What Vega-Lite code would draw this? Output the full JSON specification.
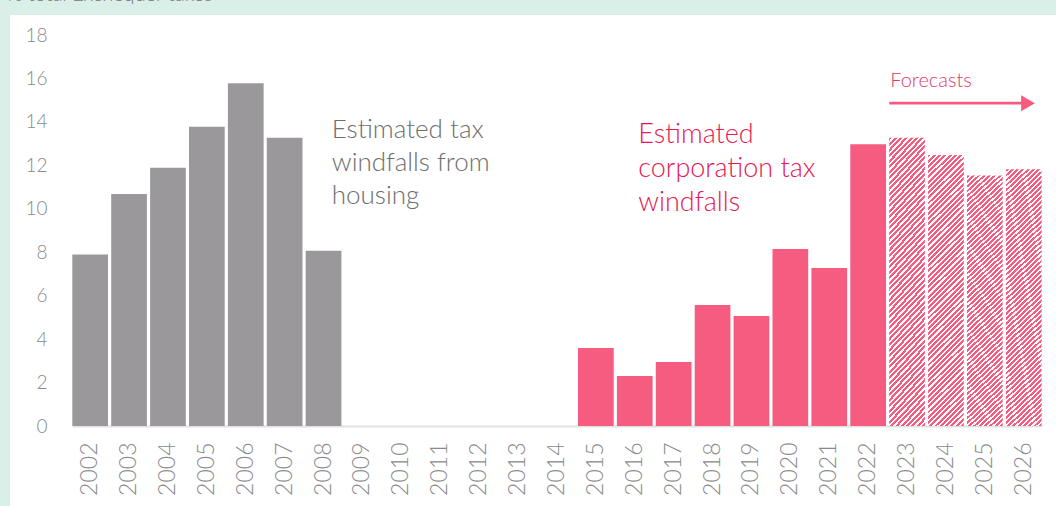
{
 "$schema": "https://vega.github.io/schema/vega-lite/v6.json",
 "width": 1046,
 "height": 491,
 "autosize": {"type": "none"},
 "padding": {"left": 10, "top": 15, "right": 0, "bottom": 0},
 "background": "#d9efe8",
 "view": {"fill": "#ffffff", "stroke": null},
 "title": {"text": "% total Exchequer takes", "anchor": "start", "frame": "group", "offset": 0, "baseline": "bottom", "fontSize": 20, "font": "Lato", "fontWeight": 300, "color": "#777777", "dx": -3, "dy": 10},
 "config": {"font": "Lato"},
 "datasets": {
  "bars": [
   {"year": "2002", "value": 7.9, "kind": "housing"},
   {"year": "2003", "value": 10.68, "kind": "housing"},
   {"year": "2004", "value": 11.89, "kind": "housing"},
   {"year": "2005", "value": 13.78, "kind": "housing"},
   {"year": "2006", "value": 15.78, "kind": "housing"},
   {"year": "2007", "value": 13.27, "kind": "housing"},
   {"year": "2008", "value": 8.07, "kind": "housing"},
   {"year": "2015", "value": 3.59, "kind": "corporation"},
   {"year": "2016", "value": 2.3, "kind": "corporation"},
   {"year": "2017", "value": 2.95, "kind": "corporation"},
   {"year": "2018", "value": 5.57, "kind": "corporation"},
   {"year": "2019", "value": 5.06, "kind": "corporation"},
   {"year": "2020", "value": 8.15, "kind": "corporation"},
   {"year": "2021", "value": 7.27, "kind": "corporation"},
   {"year": "2022", "value": 12.97, "kind": "corporation"},
   {"year": "2023", "value": 13.27, "kind": "forecast"},
   {"year": "2024", "value": 12.48, "kind": "forecast"},
   {"year": "2025", "value": 11.53, "kind": "forecast"},
   {"year": "2026", "value": 11.82, "kind": "forecast"}
  ]
 },
 "layer": [
  {
   "data": {"name": "bars"},
   "transform": [{"filter": "datum.kind != 'forecast'"}],
   "mark": {"type": "bar"},
   "encoding": {
    "x": {"field": "year", "type": "ordinal",
     "scale": {"domain": ["2002","2003","2004","2005","2006","2007","2008","2009","2010","2011","2012","2013","2014","2015","2016","2017","2018","2019","2020","2021","2022","2023","2024","2025","2026"], "range": [62.3, 1031.6], "paddingInner": 0.082, "paddingOuter": 0},
     "axis": {"title": null, "orient": "bottom", "offset": -80, "ticks": false, "domainColor": "#e2e2e2", "domainWidth": 2, "labelAngle": 270, "labelAlign": "right", "labelBaseline": "middle", "labelPadding": 16, "labelFontSize": 23, "labelFont": "Lato", "labelFontWeight": 300, "labelColor": "#8a8a8a", "grid": false}},
    "y": {"field": "value", "type": "quantitative",
     "scale": {"domain": [0, 18], "range": [411, 20], "nice": false, "zero": false},
     "axis": {"title": null, "offset": -39, "values": [0,2,4,6,8,10,12,14,16,18], "ticks": false, "domain": false, "grid": false, "labelPadding": 2, "labelFontSize": 19, "labelFont": "Lato", "labelFontWeight": 300, "labelColor": "#8a8a8a"}},
    "color": {"field": "kind", "type": "nominal", "scale": {"domain": ["housing", "corporation"], "range": ["#9a989b", "#f65c80"]}, "legend": null}
   }
  },
  {
   "data": {"name": "bars"},
   "transform": [{"filter": "datum.kind == 'forecast'"}],
   "mark": {"type": "bar", "fill": {"gradient": "linear", "x1": 0, "y1": 0, "x2": 0.145, "y2": 1.115, "stops": [
{"offset":0,"color":"#f65c80"},{"offset":0.0095,"color":"#f65c80"},{"offset":0.0095,"color":"#ffffff"},{"offset":0.017,"color":"#ffffff"},
{"offset":0.017,"color":"#f65c80"},{"offset":0.0265,"color":"#f65c80"},{"offset":0.0265,"color":"#ffffff"},{"offset":0.034,"color":"#ffffff"},
{"offset":0.034,"color":"#f65c80"},{"offset":0.0435,"color":"#f65c80"},{"offset":0.0435,"color":"#ffffff"},{"offset":0.051,"color":"#ffffff"},
{"offset":0.051,"color":"#f65c80"},{"offset":0.0605,"color":"#f65c80"},{"offset":0.0605,"color":"#ffffff"},{"offset":0.068,"color":"#ffffff"},
{"offset":0.068,"color":"#f65c80"},{"offset":0.0775,"color":"#f65c80"},{"offset":0.0775,"color":"#ffffff"},{"offset":0.085,"color":"#ffffff"},
{"offset":0.085,"color":"#f65c80"},{"offset":0.0945,"color":"#f65c80"},{"offset":0.0945,"color":"#ffffff"},{"offset":0.102,"color":"#ffffff"},
{"offset":0.102,"color":"#f65c80"},{"offset":0.1115,"color":"#f65c80"},{"offset":0.1115,"color":"#ffffff"},{"offset":0.119,"color":"#ffffff"},
{"offset":0.119,"color":"#f65c80"},{"offset":0.1285,"color":"#f65c80"},{"offset":0.1285,"color":"#ffffff"},{"offset":0.136,"color":"#ffffff"},
{"offset":0.136,"color":"#f65c80"},{"offset":0.1455,"color":"#f65c80"},{"offset":0.1455,"color":"#ffffff"},{"offset":0.153,"color":"#ffffff"},
{"offset":0.153,"color":"#f65c80"},{"offset":0.1625,"color":"#f65c80"},{"offset":0.1625,"color":"#ffffff"},{"offset":0.17,"color":"#ffffff"},
{"offset":0.17,"color":"#f65c80"},{"offset":0.1795,"color":"#f65c80"},{"offset":0.1795,"color":"#ffffff"},{"offset":0.187,"color":"#ffffff"},
{"offset":0.187,"color":"#f65c80"},{"offset":0.1965,"color":"#f65c80"},{"offset":0.1965,"color":"#ffffff"},{"offset":0.204,"color":"#ffffff"},
{"offset":0.204,"color":"#f65c80"},{"offset":0.2135,"color":"#f65c80"},{"offset":0.2135,"color":"#ffffff"},{"offset":0.221,"color":"#ffffff"},
{"offset":0.221,"color":"#f65c80"},{"offset":0.2305,"color":"#f65c80"},{"offset":0.2305,"color":"#ffffff"},{"offset":0.238,"color":"#ffffff"},
{"offset":0.238,"color":"#f65c80"},{"offset":0.2475,"color":"#f65c80"},{"offset":0.2475,"color":"#ffffff"},{"offset":0.255,"color":"#ffffff"},
{"offset":0.255,"color":"#f65c80"},{"offset":0.2645,"color":"#f65c80"},{"offset":0.2645,"color":"#ffffff"},{"offset":0.272,"color":"#ffffff"},
{"offset":0.272,"color":"#f65c80"},{"offset":0.2815,"color":"#f65c80"},{"offset":0.2815,"color":"#ffffff"},{"offset":0.289,"color":"#ffffff"},
{"offset":0.289,"color":"#f65c80"},{"offset":0.2985,"color":"#f65c80"},{"offset":0.2985,"color":"#ffffff"},{"offset":0.306,"color":"#ffffff"},
{"offset":0.306,"color":"#f65c80"},{"offset":0.3155,"color":"#f65c80"},{"offset":0.3155,"color":"#ffffff"},{"offset":0.323,"color":"#ffffff"},
{"offset":0.323,"color":"#f65c80"},{"offset":0.3325,"color":"#f65c80"},{"offset":0.3325,"color":"#ffffff"},{"offset":0.34,"color":"#ffffff"},
{"offset":0.34,"color":"#f65c80"},{"offset":0.3495,"color":"#f65c80"},{"offset":0.3495,"color":"#ffffff"},{"offset":0.357,"color":"#ffffff"},
{"offset":0.357,"color":"#f65c80"},{"offset":0.3665,"color":"#f65c80"},{"offset":0.3665,"color":"#ffffff"},{"offset":0.374,"color":"#ffffff"},
{"offset":0.374,"color":"#f65c80"},{"offset":0.3835,"color":"#f65c80"},{"offset":0.3835,"color":"#ffffff"},{"offset":0.391,"color":"#ffffff"},
{"offset":0.391,"color":"#f65c80"},{"offset":0.4005,"color":"#f65c80"},{"offset":0.4005,"color":"#ffffff"},{"offset":0.408,"color":"#ffffff"},
{"offset":0.408,"color":"#f65c80"},{"offset":0.4175,"color":"#f65c80"},{"offset":0.4175,"color":"#ffffff"},{"offset":0.425,"color":"#ffffff"},
{"offset":0.425,"color":"#f65c80"},{"offset":0.4345,"color":"#f65c80"},{"offset":0.4345,"color":"#ffffff"},{"offset":0.442,"color":"#ffffff"},
{"offset":0.442,"color":"#f65c80"},{"offset":0.4515,"color":"#f65c80"},{"offset":0.4515,"color":"#ffffff"},{"offset":0.459,"color":"#ffffff"},
{"offset":0.459,"color":"#f65c80"},{"offset":0.4685,"color":"#f65c80"},{"offset":0.4685,"color":"#ffffff"},{"offset":0.476,"color":"#ffffff"},
{"offset":0.476,"color":"#f65c80"},{"offset":0.4855,"color":"#f65c80"},{"offset":0.4855,"color":"#ffffff"},{"offset":0.493,"color":"#ffffff"},
{"offset":0.493,"color":"#f65c80"},{"offset":0.5025,"color":"#f65c80"},{"offset":0.5025,"color":"#ffffff"},{"offset":0.51,"color":"#ffffff"},
{"offset":0.51,"color":"#f65c80"},{"offset":0.5195,"color":"#f65c80"},{"offset":0.5195,"color":"#ffffff"},{"offset":0.527,"color":"#ffffff"},
{"offset":0.527,"color":"#f65c80"},{"offset":0.5365,"color":"#f65c80"},{"offset":0.5365,"color":"#ffffff"},{"offset":0.544,"color":"#ffffff"},
{"offset":0.544,"color":"#f65c80"},{"offset":0.5535,"color":"#f65c80"},{"offset":0.5535,"color":"#ffffff"},{"offset":0.561,"color":"#ffffff"},
{"offset":0.561,"color":"#f65c80"},{"offset":0.5705,"color":"#f65c80"},{"offset":0.5705,"color":"#ffffff"},{"offset":0.578,"color":"#ffffff"},
{"offset":0.578,"color":"#f65c80"},{"offset":0.5875,"color":"#f65c80"},{"offset":0.5875,"color":"#ffffff"},{"offset":0.595,"color":"#ffffff"},
{"offset":0.595,"color":"#f65c80"},{"offset":0.6045,"color":"#f65c80"},{"offset":0.6045,"color":"#ffffff"},{"offset":0.612,"color":"#ffffff"},
{"offset":0.612,"color":"#f65c80"},{"offset":0.6215,"color":"#f65c80"},{"offset":0.6215,"color":"#ffffff"},{"offset":0.629,"color":"#ffffff"},
{"offset":0.629,"color":"#f65c80"},{"offset":0.6385,"color":"#f65c80"},{"offset":0.6385,"color":"#ffffff"},{"offset":0.646,"color":"#ffffff"},
{"offset":0.646,"color":"#f65c80"},{"offset":0.6555,"color":"#f65c80"},{"offset":0.6555,"color":"#ffffff"},{"offset":0.663,"color":"#ffffff"},
{"offset":0.663,"color":"#f65c80"},{"offset":0.6725,"color":"#f65c80"},{"offset":0.6725,"color":"#ffffff"},{"offset":0.68,"color":"#ffffff"},
{"offset":0.68,"color":"#f65c80"},{"offset":0.6895,"color":"#f65c80"},{"offset":0.6895,"color":"#ffffff"},{"offset":0.697,"color":"#ffffff"},
{"offset":0.697,"color":"#f65c80"},{"offset":0.7065,"color":"#f65c80"},{"offset":0.7065,"color":"#ffffff"},{"offset":0.714,"color":"#ffffff"},
{"offset":0.714,"color":"#f65c80"},{"offset":0.7235,"color":"#f65c80"},{"offset":0.7235,"color":"#ffffff"},{"offset":0.731,"color":"#ffffff"},
{"offset":0.731,"color":"#f65c80"},{"offset":0.7405,"color":"#f65c80"},{"offset":0.7405,"color":"#ffffff"},{"offset":0.748,"color":"#ffffff"},
{"offset":0.748,"color":"#f65c80"},{"offset":0.7575,"color":"#f65c80"},{"offset":0.7575,"color":"#ffffff"},{"offset":0.765,"color":"#ffffff"},
{"offset":0.765,"color":"#f65c80"},{"offset":0.7745,"color":"#f65c80"},{"offset":0.7745,"color":"#ffffff"},{"offset":0.782,"color":"#ffffff"},
{"offset":0.782,"color":"#f65c80"},{"offset":0.7915,"color":"#f65c80"},{"offset":0.7915,"color":"#ffffff"},{"offset":0.799,"color":"#ffffff"},
{"offset":0.799,"color":"#f65c80"},{"offset":0.8085,"color":"#f65c80"},{"offset":0.8085,"color":"#ffffff"},{"offset":0.816,"color":"#ffffff"},
{"offset":0.816,"color":"#f65c80"},{"offset":0.8255,"color":"#f65c80"},{"offset":0.8255,"color":"#ffffff"},{"offset":0.833,"color":"#ffffff"},
{"offset":0.833,"color":"#f65c80"},{"offset":0.8425,"color":"#f65c80"},{"offset":0.8425,"color":"#ffffff"},{"offset":0.85,"color":"#ffffff"},
{"offset":0.85,"color":"#f65c80"},{"offset":0.8595,"color":"#f65c80"},{"offset":0.8595,"color":"#ffffff"},{"offset":0.867,"color":"#ffffff"},
{"offset":0.867,"color":"#f65c80"},{"offset":0.8765,"color":"#f65c80"},{"offset":0.8765,"color":"#ffffff"},{"offset":0.884,"color":"#ffffff"},
{"offset":0.884,"color":"#f65c80"},{"offset":0.8935,"color":"#f65c80"},{"offset":0.8935,"color":"#ffffff"},{"offset":0.901,"color":"#ffffff"},
{"offset":0.901,"color":"#f65c80"},{"offset":0.9105,"color":"#f65c80"},{"offset":0.9105,"color":"#ffffff"},{"offset":0.918,"color":"#ffffff"},
{"offset":0.918,"color":"#f65c80"},{"offset":0.9275,"color":"#f65c80"},{"offset":0.9275,"color":"#ffffff"},{"offset":0.935,"color":"#ffffff"},
{"offset":0.935,"color":"#f65c80"},{"offset":0.9445,"color":"#f65c80"},{"offset":0.9445,"color":"#ffffff"},{"offset":0.952,"color":"#ffffff"},
{"offset":0.952,"color":"#f65c80"},{"offset":0.9615,"color":"#f65c80"},{"offset":0.9615,"color":"#ffffff"},{"offset":0.969,"color":"#ffffff"},
{"offset":0.969,"color":"#f65c80"},{"offset":0.9785,"color":"#f65c80"},{"offset":0.9785,"color":"#ffffff"},{"offset":0.986,"color":"#ffffff"},
{"offset":0.986,"color":"#f65c80"},{"offset":0.9955,"color":"#f65c80"},{"offset":0.9955,"color":"#ffffff"},{"offset":1,"color":"#ffffff"}
   ]}},
   "encoding": {
    "x": {"field": "year", "type": "ordinal"},
    "y": {"field": "value", "type": "quantitative"}
   }
  },
  {
   "data": {"values": [{"year": "2008", "value": 13.26, "label": "Estimated tax\nwindfalls from\nhousing"}]},
   "mark": {"type": "text", "align": "left", "baseline": "alphabetic", "lineBreak": "\n", "lineHeight": 33, "fontSize": 26, "font": "Lato", "fontWeight": 300, "color": "#6e6e6e"},
   "encoding": {
    "x": {"field": "year", "type": "ordinal", "bandPosition": 0.73},
    "y": {"field": "value", "type": "quantitative"},
    "text": {"field": "label"}
   }
  },
  {
   "data": {"values": [{"year": "2016", "value": 13.02, "label": "Estimated\ncorporation tax\nwindfalls"}]},
   "mark": {"type": "text", "align": "left", "baseline": "alphabetic", "lineBreak": "\n", "lineHeight": 34, "fontSize": 27, "font": "Lato", "fontWeight": 300, "color": "#e8184f"},
   "encoding": {
    "x": {"field": "year", "type": "ordinal", "bandPosition": 0.6},
    "y": {"field": "value", "type": "quantitative"},
    "text": {"field": "label"}
   }
  },
  {
   "data": {"values": [{"year": "2023", "value": 15.59, "label": "Forecasts"}]},
   "mark": {"type": "text", "align": "left", "baseline": "alphabetic", "fontSize": 20, "font": "Lato", "fontWeight": 300, "color": "#e5386a"},
   "encoding": {
    "x": {"field": "year", "type": "ordinal", "bandPosition": 0.03},
    "y": {"field": "value", "type": "quantitative"},
    "text": {"field": "label"}
   }
  },
  {
   "data": {"values": [{"year": "2023", "end": "2026", "value": 14.86}]},
   "mark": {"type": "rule", "color": "#f65c80", "strokeWidth": 2.7},
   "encoding": {
    "x": {"field": "year", "type": "ordinal", "bandPosition": 0},
    "x2": {"field": "end"},
    "y": {"field": "value", "type": "quantitative"}
   }
  },
  {
   "data": {"values": [{"year": "2026", "value": 14.86}]},
   "mark": {"type": "point", "shape": "triangle-right", "filled": true, "size": 256, "color": "#f65c80", "opacity": 1},
   "encoding": {
    "x": {"field": "year", "type": "ordinal", "bandPosition": 0.62},
    "y": {"field": "value", "type": "quantitative"}
   }
  }
 ]
}
